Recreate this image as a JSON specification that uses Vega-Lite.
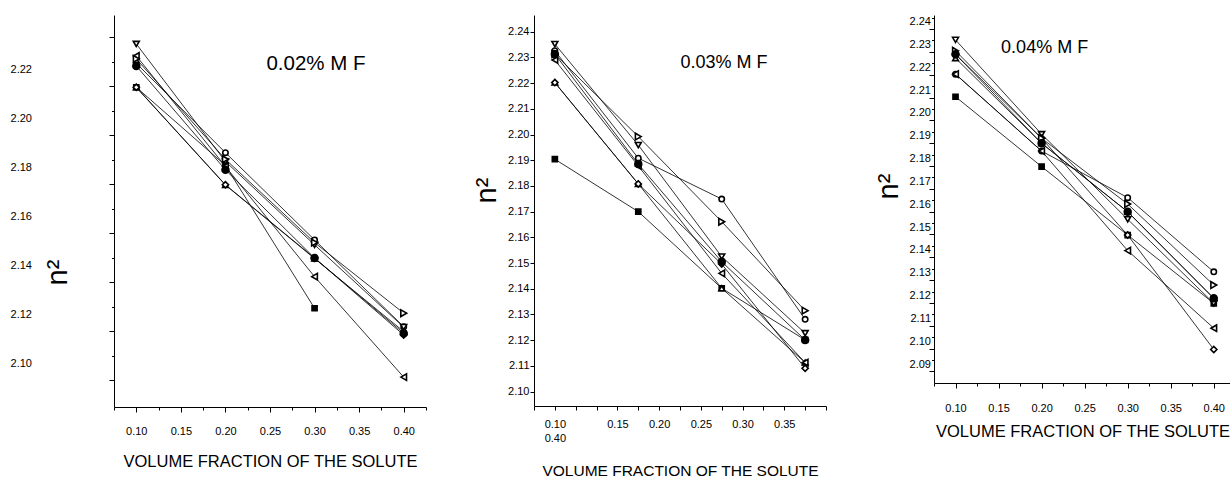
{
  "$schema": "https://vega.github.io/schema/vega-lite/v6.json",
  "padding": {"left": 10, "top": 15, "right": 0, "bottom": 0},
  "background": "white",
  "spacing": 108,
  "bounds": "flush",
  "datasets": {
    "pts": [
      {"p":1,"s":"sq","x":0.1,"y":2.2129},{"p":1,"s":"sq","x":0.2,"y":2.181},{"p":1,"s":"sq","x":0.3,"y":2.1227},
      {"p":1,"s":"ci","x":0.1,"y":2.2227},{"p":1,"s":"ci","x":0.2,"y":2.1862},{"p":1,"s":"ci","x":0.3,"y":2.1506},{"p":1,"s":"ci","x":0.4,"y":2.1152},
      {"p":1,"s":"tu","x":0.1,"y":2.2129},{"p":1,"s":"tu","x":0.2,"y":2.173},{"p":1,"s":"tu","x":0.3,"y":2.143},{"p":1,"s":"tu","x":0.4,"y":2.1132},
      {"p":1,"s":"td","x":0.1,"y":2.2306},{"p":1,"s":"td","x":0.2,"y":2.1826},{"p":1,"s":"td","x":0.3,"y":2.1486},{"p":1,"s":"td","x":0.4,"y":2.115},
      {"p":1,"s":"di","x":0.1,"y":2.2129},{"p":1,"s":"di","x":0.2,"y":2.1731},{"p":1,"s":"di","x":0.3,"y":2.1432},{"p":1,"s":"di","x":0.4,"y":2.1118},
      {"p":1,"s":"tl","x":0.1,"y":2.2257},{"p":1,"s":"tl","x":0.2,"y":2.1806},{"p":1,"s":"tl","x":0.3,"y":2.1356},{"p":1,"s":"tl","x":0.4,"y":2.0946},
      {"p":1,"s":"tr","x":0.1,"y":2.2245},{"p":1,"s":"tr","x":0.2,"y":2.1835},{"p":1,"s":"tr","x":0.3,"y":2.1495},{"p":1,"s":"tr","x":0.4,"y":2.1207},
      {"p":1,"s":"fc","x":0.1,"y":2.2216},{"p":1,"s":"fc","x":0.2,"y":2.1792},{"p":1,"s":"fc","x":0.3,"y":2.1432},{"p":1,"s":"fc","x":0.4,"y":2.1125},

      {"p":2,"s":"sq","x":0.1,"y":2.1904},{"p":2,"s":"sq","x":0.2,"y":2.17},{"p":2,"s":"sq","x":0.3,"y":2.1402},{"p":2,"s":"sq","x":0.4,"y":2.1201},
      {"p":2,"s":"ci","x":0.1,"y":2.2326},{"p":2,"s":"ci","x":0.2,"y":2.1908},{"p":2,"s":"ci","x":0.3,"y":2.1749},{"p":2,"s":"ci","x":0.4,"y":2.1281},
      {"p":2,"s":"tu","x":0.1,"y":2.2202},{"p":2,"s":"tu","x":0.2,"y":2.1808},{"p":2,"s":"tu","x":0.3,"y":2.1402},{"p":2,"s":"tu","x":0.4,"y":2.1113},
      {"p":2,"s":"td","x":0.1,"y":2.2352},{"p":2,"s":"td","x":0.2,"y":2.1959},{"p":2,"s":"td","x":0.3,"y":2.1525},{"p":2,"s":"td","x":0.4,"y":2.1227},
      {"p":2,"s":"di","x":0.1,"y":2.2202},{"p":2,"s":"di","x":0.2,"y":2.1808},{"p":2,"s":"di","x":0.3,"y":2.1496},{"p":2,"s":"di","x":0.4,"y":2.1091},
      {"p":2,"s":"tl","x":0.1,"y":2.229},{"p":2,"s":"tl","x":0.2,"y":2.1878},{"p":2,"s":"tl","x":0.3,"y":2.146},{"p":2,"s":"tl","x":0.4,"y":2.1113},
      {"p":2,"s":"tr","x":0.1,"y":2.2313},{"p":2,"s":"tr","x":0.2,"y":2.1992},{"p":2,"s":"tr","x":0.3,"y":2.1661},{"p":2,"s":"tr","x":0.4,"y":2.1315},
      {"p":2,"s":"fc","x":0.1,"y":2.2313},{"p":2,"s":"fc","x":0.2,"y":2.1885},{"p":2,"s":"fc","x":0.3,"y":2.1505},{"p":2,"s":"fc","x":0.4,"y":2.1201},

      {"p":3,"s":"sq","x":0.1,"y":2.2071},{"p":3,"s":"sq","x":0.2,"y":2.1765},{"p":3,"s":"sq","x":0.3,"y":2.1465},{"p":3,"s":"sq","x":0.4,"y":2.1166},
      {"p":3,"s":"ci","x":0.1,"y":2.217},{"p":3,"s":"ci","x":0.2,"y":2.1833},{"p":3,"s":"ci","x":0.3,"y":2.1629},{"p":3,"s":"ci","x":0.4,"y":2.1304},
      {"p":3,"s":"tu","x":0.1,"y":2.224},{"p":3,"s":"tu","x":0.2,"y":2.1867},{"p":3,"s":"tu","x":0.3,"y":2.1567},{"p":3,"s":"tu","x":0.4,"y":2.1188},
      {"p":3,"s":"td","x":0.1,"y":2.232},{"p":3,"s":"td","x":0.2,"y":2.1907},{"p":3,"s":"td","x":0.3,"y":2.1534},{"p":3,"s":"td","x":0.4,"y":2.1166},
      {"p":3,"s":"di","x":0.1,"y":2.2257},{"p":3,"s":"di","x":0.2,"y":2.1889},{"p":3,"s":"di","x":0.3,"y":2.1465},{"p":3,"s":"di","x":0.4,"y":2.0964},
      {"p":3,"s":"tl","x":0.1,"y":2.217},{"p":3,"s":"tl","x":0.2,"y":2.1833},{"p":3,"s":"tl","x":0.3,"y":2.1397},{"p":3,"s":"tl","x":0.4,"y":2.1057},
      {"p":3,"s":"tr","x":0.1,"y":2.2272},{"p":3,"s":"tr","x":0.2,"y":2.1889},{"p":3,"s":"tr","x":0.3,"y":2.1601},{"p":3,"s":"tr","x":0.4,"y":2.1246},
      {"p":3,"s":"fc","x":0.1,"y":2.2257},{"p":3,"s":"fc","x":0.2,"y":2.1867},{"p":3,"s":"fc","x":0.3,"y":2.1567},{"p":3,"s":"fc","x":0.4,"y":2.1188}
    ],
    "notes": [
      {"p":1,"label":"0.02% M F","x":0.3016,"y":2.2224},
      {"p":2,"label":"0.03% M F","x":0.3027,"y":2.228},
      {"p":3,"label":"0.04% M F","x":0.2035,"y":2.2283}
    ]
  },
  "hconcat": [
    {
      "width": 312, "height": 392,
      "encoding": {
        "x": {"field":"x","type":"quantitative","scale":{"domain":[0.075,0.425],"nice":false,"zero":false},
          "axis": {"values":[0.075,0.1,0.125,0.15,0.175,0.2,0.225,0.25,0.275,0.3,0.325,0.35,0.375,0.4,0.425],
            "labelExpr":"round(datum.value*1000) % 50 == 0 ? format(datum.value, '.2f') : ''",
            "tickSize":{"condition":{"test":"round(datum.value*1000) % 50 == 0","value":5},"value":3},
            "labelPadding":13,"labelFlush":false,"labelOverlap":false,
            "title":"VOLUME FRACTION OF THE SOLUTE","titleFontSize":16.5,"titleY":59,"titleBaseline":"alphabetic"}},
        "y": {"field":"y","type":"quantitative","scale":{"domain":[2.0824,2.2424],"nice":false,"zero":false},
          "axis": {"values":[2.09,2.1,2.11,2.12,2.13,2.14,2.15,2.16,2.17,2.18,2.19,2.2,2.21,2.22,2.23],
            "labelExpr":"round(datum.value*100) % 2 == 0 ? format(datum.value, '.2f') : ''",
            "tickSize":{"condition":{"test":"round(datum.value*100) % 2 == 1","value":5},"value":2.5},
            "tickOffset":-8,"labelOffset":8,"labelPadding":80,"labelOverlap":false,"labelFlush":false,
            "title":"n²","titleFontSize":29,"titleX":-57,"titleY":257,"titleBaseline":"middle"}}
      },
      "layer": [
        {"data":{"name":"pts"},"transform":[{"filter":"datum.p == 1"}],
         "mark":{"type":"line","color":"black","strokeWidth":0.8},
         "encoding":{"detail":{"field":"s"},"order":{"field":"x"}}},
        {"data":{"name":"pts"},"transform":[{"filter":"datum.p == 1"}],
         "mark":{"type":"point","filled":true,"stroke":"black","strokeWidth":1.6,"opacity":1},
         "encoding":{
           "shape":{"field":"s","scale":{"domain":["sq","ci","tu","td","di","tl","tr","fc"],"range":["square","circle","triangle-up","triangle-down","diamond","triangle-left","triangle-right","circle"]},"legend":null},
           "fill":{"field":"s","scale":{"domain":["sq","ci","tu","td","di","tl","tr","fc"],"range":["black","white","white","white","white","white","white","black"]},"legend":null},
           "size":{"field":"s","scale":{"domain":["sq","ci","tu","td","di","tl","tr","fc"],"range":[26,48,64,64,50,64,64,40]},"legend":null}}},
        {"data":{"name":"notes"},"transform":[{"filter":"datum.p == 1"}],
         "mark":{"type":"text","fontSize":20.5,"align":"center","baseline":"middle","color":"black"},
         "encoding":{"text":{"field":"label"}}}
      ]
    },
    {
      "width": 292, "height": 391,
      "encoding": {
        "x": {"field":"x","type":"quantitative","scale":{"domain":[0.075,0.425],"nice":false,"zero":false},
          "axis": {"values":[0.075,0.1,0.125,0.15,0.175,0.2,0.225,0.25,0.275,0.3,0.325,0.35,0.375,0.4,0.425],
            "labelExpr":"abs(datum.value-0.1)<0.001 ? ['0.10','0.40'] : abs(datum.value-0.175)<0.001 ? '0.15' : abs(datum.value-0.225)<0.001 ? '0.20' : abs(datum.value-0.275)<0.001 ? '0.25' : abs(datum.value-0.325)<0.001 ? '0.30' : abs(datum.value-0.375)<0.001 ? '0.35' : ''",
            "tickSize":4,"labelPadding":8,"labelFlush":false,"labelOverlap":false,"labelLineHeight":14,
            "title":"VOLUME FRACTION OF THE SOLUTE","titleFontSize":15.5,"titleY":69,"titleBaseline":"alphabetic"}},
        "y": {"field":"y","type":"quantitative","scale":{"domain":[2.0944,2.2465],"nice":false,"zero":false},
          "axis": {"values":[2.1,2.11,2.12,2.13,2.14,2.15,2.16,2.17,2.18,2.19,2.2,2.21,2.22,2.23,2.24],
            "format":".2f","tickSize":4,"labelPadding":1,"labelOverlap":false,"labelFlush":false,
            "title":"n²","titleFontSize":29,"titleX":-48,"titleY":175,"titleBaseline":"middle"}}
      },
      "layer": [
        {"data":{"name":"pts"},"transform":[{"filter":"datum.p == 2"}],
         "mark":{"type":"line","color":"black","strokeWidth":0.8},
         "encoding":{"detail":{"field":"s"},"order":{"field":"x"}}},
        {"data":{"name":"pts"},"transform":[{"filter":"datum.p == 2"}],
         "mark":{"type":"point","filled":true,"stroke":"black","strokeWidth":1.6,"opacity":1},
         "encoding":{
           "shape":{"field":"s","scale":{"domain":["sq","ci","tu","td","di","tl","tr","fc"],"range":["square","circle","triangle-up","triangle-down","diamond","triangle-left","triangle-right","circle"]},"legend":null},
           "fill":{"field":"s","scale":{"domain":["sq","ci","tu","td","di","tl","tr","fc"],"range":["black","white","white","white","white","white","white","black"]},"legend":null},
           "size":{"field":"s","scale":{"domain":["sq","ci","tu","td","di","tl","tr","fc"],"range":[26,48,64,64,50,64,64,40]},"legend":null}}},
        {"data":{"name":"notes"},"transform":[{"filter":"datum.p == 2"}],
         "mark":{"type":"text","fontSize":18,"align":"center","baseline":"middle","color":"black"},
         "encoding":{"text":{"field":"label"}}}
      ]
    },
    {
      "width": 297, "height": 368,
      "encoding": {
        "x": {"field":"x","type":"quantitative","scale":{"domain":[0.075,0.42],"nice":false,"zero":false},
          "axis": {"values":[0.075,0.1,0.125,0.15,0.175,0.2,0.225,0.25,0.275,0.3,0.325,0.35,0.375,0.4],
            "labelExpr":"round(datum.value*1000) % 50 == 0 ? format(datum.value, '.2f') : ''",
            "tickSize":{"condition":{"test":"round(datum.value*1000) % 50 == 0","value":5},"value":3},
            "labelPadding":14,"labelFlush":false,"labelOverlap":false,
            "title":"VOLUME FRACTION OF THE SOLUTE","titleFontSize":16.5,"titleY":53,"titleBaseline":"alphabetic"}},
        "y": {"field":"y","type":"quantitative","scale":{"domain":[2.0817,2.2429],"nice":false,"zero":false},
          "axis": {"values":[2.085,2.09,2.095,2.1,2.105,2.11,2.115,2.12,2.125,2.13,2.135,2.14,2.145,2.15,2.155,2.16,2.165,2.17,2.175,2.18,2.185,2.19,2.195,2.2,2.205,2.21,2.215,2.22,2.225,2.23,2.235,2.24],
            "labelExpr":"round(datum.value*1000) % 10 == 0 ? format(datum.value, '.2f') : ''",
            "tickSize":{"condition":{"test":"round(datum.value*1000) % 10 == 5","value":5},"value":2.5},
            "tickOffset":-4,"labelOffset":4,"labelPadding":1,"labelOverlap":false,"labelFlush":false,
            "title":"n²","titleFontSize":29,"titleX":-46,"titleY":171,"titleBaseline":"middle"}}
      },
      "layer": [
        {"data":{"name":"pts"},"transform":[{"filter":"datum.p == 3"}],
         "mark":{"type":"line","color":"black","strokeWidth":0.8},
         "encoding":{"detail":{"field":"s"},"order":{"field":"x"}}},
        {"data":{"name":"pts"},"transform":[{"filter":"datum.p == 3"}],
         "mark":{"type":"point","filled":true,"stroke":"black","strokeWidth":1.6,"opacity":1},
         "encoding":{
           "shape":{"field":"s","scale":{"domain":["sq","ci","tu","td","di","tl","tr","fc"],"range":["square","circle","triangle-up","triangle-down","diamond","triangle-left","triangle-right","circle"]},"legend":null},
           "fill":{"field":"s","scale":{"domain":["sq","ci","tu","td","di","tl","tr","fc"],"range":["black","white","white","white","white","white","white","black"]},"legend":null},
           "size":{"field":"s","scale":{"domain":["sq","ci","tu","td","di","tl","tr","fc"],"range":[26,48,64,64,50,64,64,40]},"legend":null}}},
        {"data":{"name":"notes"},"transform":[{"filter":"datum.p == 3"}],
         "mark":{"type":"text","fontSize":18,"align":"center","baseline":"middle","color":"black"},
         "encoding":{"text":{"field":"label"}}}
      ]
    }
  ],
  "resolve": {"scale": {"shape":"independent","fill":"independent","size":"independent"}},
  "config": {
    "view": {"stroke": null},
    "font": "'Liberation Sans Narrow', 'Liberation Sans', sans-serif",
    "text": {"font": "'Liberation Sans Narrow', 'Liberation Sans', sans-serif"},
    "axis": {"grid": false, "domainColor": "black", "domainWidth": 1, "tickColor": "black", "tickWidth": 1,
      "labelColor": "black", "titleColor": "black", "labelFontSize": 11, "titleFontWeight": "normal",
      "labelFont": "'Liberation Sans Narrow', 'Liberation Sans', sans-serif",
      "titleFont": "'Liberation Sans Narrow', 'Liberation Sans', sans-serif"}
  }
}
